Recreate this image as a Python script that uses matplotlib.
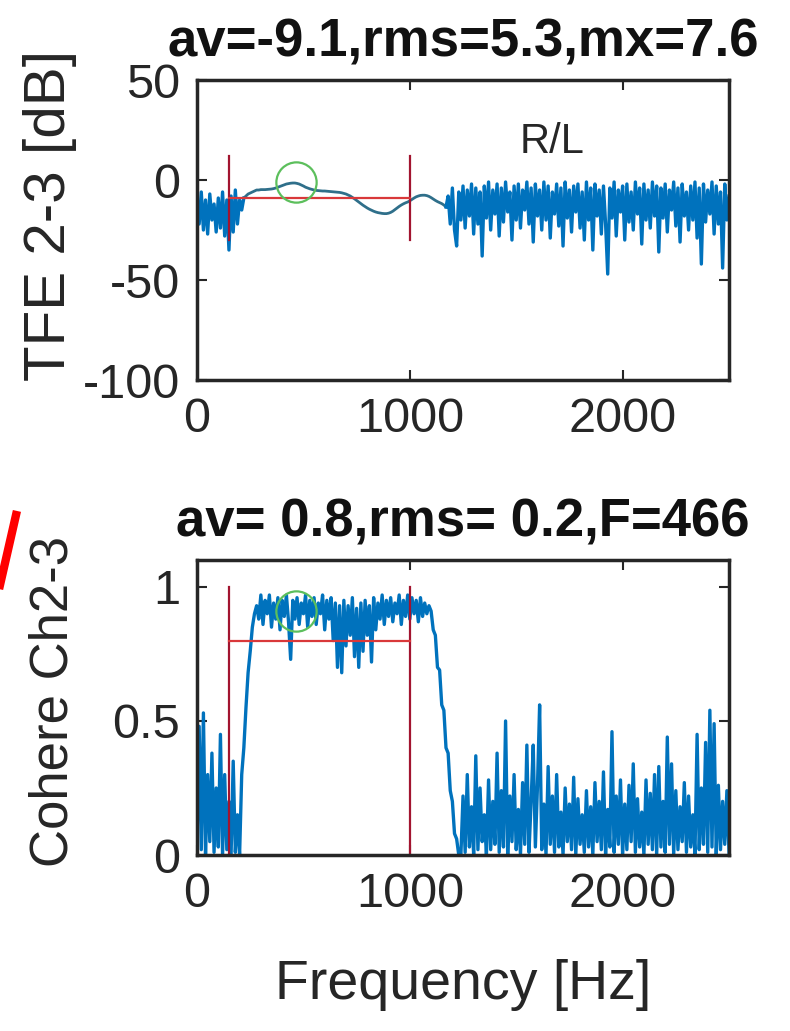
import matplotlib
matplotlib.use("Agg")
import matplotlib.pyplot as plt
import numpy as np

plt.rcParams['font.family'] = ['Liberation Sans', 'DejaVu Sans']
plt.rcParams['axes.unicode_minus'] = False

# ---- TFE 2-3 [dB], sampled every 10 Hz ----
tfe_low_start = 0
tfe_low = [-8, -22, -6, -25, -10, -27, -7, -20, -12, -26, -9, -24, -6, -28, -10, -35,
           -8, -26, -5, -22, -10, -15, -9]
tfe_band_start = 230
tfe_band = [-8, -7, -6.5, -6, -5.5, -5, -5, -4.8, -4.8, -4.8, -4.7, -4.6, -4.5, -4.3, -4.0,
            -3.6, -3.2, -2.8, -2.4, -2.0, -1.8, -1.6, -1.5, -1.5, -1.7, -2.0, -2.5, -3.0,
            -3.6, -4.0, -4.4, -4.7, -5.0, -5.2, -5.3, -5.4, -5.5, -5.5, -5.6, -5.7, -5.8,
            -5.9, -6.0, -6.1, -6.2, -6.4, -6.7, -7.0, -7.5, -8.0, -8.7, -9.4, -10.2, -11.0,
            -11.8, -12.6, -13.3, -14.0, -14.6, -15.1, -15.6, -16.0, -16.3, -16.5, -16.7,
            -16.8, -16.8, -16.6, -16.2, -15.6, -14.8, -14.0, -13.2, -12.5, -11.9, -11.4,
            -11.0, -10.4, -9.7, -9.0, -8.4, -8.0, -7.7, -7.6, -7.6, -7.8, -8.2, -8.8, -9.5,
            -10.2, -10.8, -11.3, -11.8, -12.5, -13.5]
tfe_high_start = 1180
tfe_high = [-8, -22, -4, -25, -33, -6, -20, -3, -24, -5, -18, -2, -27, -4, -22, -6, -38, -3,
            -19, -1, -25, -5, -17, -2, -28, -4, -21, -1, -16, -6, -30, -3, -20, -2, -24, -5,
            -15, -1, -22, -4, -31, -2, -18, -5, -25, -1, -20, -3, -29, -6, -17, -2, -23, -4,
            -33, -1, -19, -5, -26, -3, -16, -2, -24, -6, -30, -1, -20, -4, -35, -2, -18, -5,
            -27, -3, -22, -47, -4, -19, -1, -28, -5, -16, -3, -30, -2, -21, -6, -25, -1, -17,
            -4, -32, -2, -20, -5, -24, -1, -18, -3, -36, -4, -19, -2, -26, -5, -15, -1, -23,
            -4, -31, -2, -18, -6, -25, -3, -20, -1, -29, -4, -42, -2, -21, -5, -17, -1, -27,
            -3, -22, -6, -44, -2, -20, -8]

# ---- Coherence Ch2-3, sampled every 10 Hz ----
coh_low_start = 0
coh_low = [0.05, 0.48, 0.02, 0.53, 0.0, 0.30, 0.05, 0.38, 0.01, 0.25, 0.03, 0.45, 0.0, 0.30,
           0.02, 0.20, 0.0, 0.35, 0.01, 0.15, 0.0, 0.30]
coh_band_start = 220
coh_band = [0.40, 0.55, 0.68, 0.76, 0.85, 0.90, 0.93,
            0.88, 0.97, 0.86, 0.95, 0.90, 0.97, 0.85, 0.94, 0.88, 0.96, 0.84, 0.95, 0.89,
            0.97, 0.87, 0.73, 0.95, 0.88, 0.96, 0.86, 0.94, 0.90, 0.97, 0.85, 0.95, 0.89,
            0.96, 0.86, 0.94, 0.90, 0.97, 0.84, 0.95, 0.88, 0.96, 0.80, 0.94, 0.70, 0.93,
            0.68, 0.95, 0.78, 0.93, 0.82, 0.96, 0.74, 0.92, 0.70, 0.94, 0.76, 0.95, 0.82,
            0.93, 0.72, 0.96, 0.84, 0.94, 0.88, 0.97, 0.86, 0.95, 0.89, 0.96, 0.87, 0.94,
            0.90, 0.97, 0.86, 0.95, 0.89, 0.97, 0.88, 0.96, 0.90, 0.95, 0.87, 0.96, 0.89,
            0.94, 0.90, 0.93,
            0.91, 0.84, 0.82, 0.70, 0.69, 0.56, 0.54, 0.40, 0.38, 0.24, 0.20, 0.08, 0.06, 0.0]
coh_high_start = 1240
coh_high = [0.0, 0.22, 0.01, 0.30, 0.03, 0.18, 0.0, 0.37, 0.02, 0.25, 0.05, 0.15, 0.0, 0.28,
            0.02, 0.20, 0.04, 0.38, 0.01, 0.24, 0.03, 0.50, 0.0, 0.22, 0.05, 0.30, 0.02,
            0.17, 0.0, 0.27, 0.04, 0.41, 0.01, 0.20, 0.41, 0.03, 0.26, 0.56, 0.02, 0.19, 0.0,
            0.33, 0.04, 0.22, 0.01, 0.30, 0.03, 0.16, 0.0, 0.25, 0.05, 0.19, 0.02, 0.29, 0.0,
            0.21, 0.04, 0.15, 0.01, 0.24, 0.03, 0.18, 0.0, 0.27, 0.05, 0.20, 0.02, 0.31, 0.0,
            0.17, 0.03, 0.46, 0.01, 0.22, 0.04, 0.28, 0.0, 0.19, 0.02, 0.26, 0.05, 0.34, 0.01,
            0.21, 0.03, 0.16, 0.0, 0.28, 0.04, 0.23, 0.02, 0.30, 0.0, 0.33, 0.03, 0.20, 0.01,
            0.44, 0.04, 0.34, 0.0, 0.24, 0.02, 0.18, 0.05, 0.27, 0.01, 0.22, 0.03, 0.15, 0.0,
            0.45, 0.02, 0.25, 0.04, 0.42, 0.01, 0.54, 0.03, 0.49, 0.0, 0.26, 0.02, 0.20, 0.04,
            0.24, 0.01]

# band limits, averages and peak marker
f_lo, f_hi = 150, 1000
tfe_av = -9.1
tfe_vline = [-30, 12]
coh_av = 0.8
coh_vline = [0, 1.0]
f_peak = 466
tfe_peak = -1
coh_peak = 0.91


def seg(start, vals):
    return np.arange(start, start + 10 * len(vals), 10)


blue = '#0072BD'
teal = '#2F6F8A'
dark = '#A2142F'
hred = '#D9383A'
green = '#5CBF5C'
txt = '#262626'

fig = plt.figure(figsize=(7.9, 10.31), dpi=100)
ax1 = fig.add_axes([0.2494, 0.6314, 0.6734, 0.291])
ax2 = fig.add_axes([0.2494, 0.1707, 0.6734, 0.286])

for ax in (ax1, ax2):
    ax.tick_params(direction='in', length=7, width=1.5, top=True, right=True,
                   labelsize=35, colors=txt, pad=12)
    for s in ax.spines.values():
        s.set_linewidth(2.5)
        s.set_color(txt)
    ax.set_xlim(0, 2500)
    ax.set_xticks([0, 1000, 2000])

# top: transfer function estimate
ax1.plot(seg(tfe_low_start, tfe_low), tfe_low, color=blue, lw=2.4)
ax1.plot(np.r_[tfe_low_start + 10 * (len(tfe_low) - 1), seg(tfe_band_start, tfe_band)],
         [tfe_low[-1]] + tfe_band, color=teal, lw=2.0)
ax1.plot(np.r_[tfe_band_start + 10 * (len(tfe_band) - 1), seg(tfe_high_start, tfe_high)],
         [tfe_band[-1]] + tfe_high, color=blue, lw=2.4)
ax1.plot([f_lo, f_lo], tfe_vline, color=dark, lw=1.6)
ax1.plot([f_hi, f_hi], tfe_vline, color=dark, lw=1.6)
ax1.plot([f_lo, f_hi], [tfe_av, tfe_av], color=hred, lw=1.6)
ax1.plot(f_peak, tfe_peak, 'o', mfc='none', mec=green, ms=29, mew=1.6)
ax1.set_ylim(-100, 50)
ax1.set_yticks([-100, -50, 0, 50])
ax1.text(1670, 19, 'R/L', fontsize=30, ha='center', va='center', color=txt)
ax1.set_title('av=-9.1,rms=5.3,mx=7.6', fontsize=38, fontweight='bold', pad=17, color='#111111')
ax1.set_ylabel('TFE 2-3 [dB]', fontsize=42, color=txt, va='center')
ax1.yaxis.set_label_coords(-0.276, 0.55)

# bottom: coherence
ax2.plot(np.r_[seg(coh_low_start, coh_low), seg(coh_band_start, coh_band),
               seg(coh_high_start, coh_high)],
         coh_low + coh_band + coh_high, color=blue, lw=2.4)
ax2.plot([f_lo, f_lo], coh_vline, color=dark, lw=1.6)
ax2.plot([f_hi, f_hi], coh_vline, color=dark, lw=1.6)
ax2.plot([f_lo, f_hi], [coh_av, coh_av], color=hred, lw=1.6)
ax2.plot(f_peak, coh_peak, 'o', mfc='none', mec=green, ms=29, mew=1.6)
ax2.set_ylim(0, 1.1)
ax2.set_yticks([0, 0.5, 1])
ax2.set_yticklabels(['0', '0.5', '1'])
ax2.set_title('av= 0.8,rms= 0.2,F=466', fontsize=38, fontweight='bold', pad=17, color='#111111')
ax2.set_ylabel('Cohere Ch2-3', fontsize=38, color=txt, va='center')
ax2.yaxis.set_label_coords(-0.27, 0.52)
ax2.set_xlabel('Frequency [Hz]', fontsize=40, color=txt, va='center')
ax2.xaxis.set_label_coords(0.5, -0.44)

# red annotation stroke cut at the left edge
fig.add_artist(plt.Line2D([16 / 790, 0], [1 - 515 / 1031, 1 - 585 / 1031],
                          color='#FF0000', lw=6))

fig.savefig('out.png', dpi=100)
